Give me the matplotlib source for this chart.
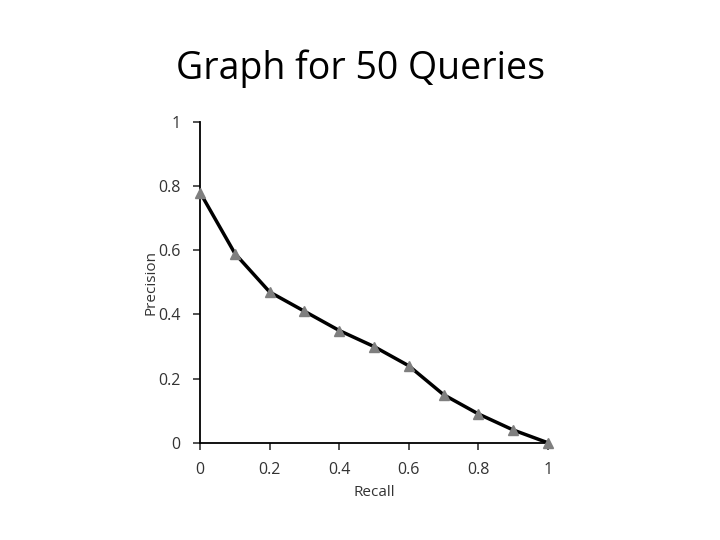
import matplotlib.pyplot as plt

# datos de la curva precision-recall
recall = [0.0, 0.1, 0.2, 0.3, 0.4, 0.5, 0.6, 0.7, 0.8, 0.9, 1.0]
precision = [0.78, 0.59, 0.47, 0.41, 0.35, 0.30, 0.24, 0.15, 0.09, 0.04, 0.0]
xticks = [0, 0.2, 0.4, 0.6, 0.8, 1]
yticks = [0, 0.2, 0.4, 0.6, 0.8, 1]

plt.rcParams['font.family'] = ['Open Sans', 'DejaVu Sans']

fig = plt.figure(figsize=(7.2, 5.4), dpi=100)
ax = fig.add_axes([0.278, 0.18, 0.483, 0.594])

ax.plot(recall, precision, color='black', linewidth=2.5, zorder=2)
ax.plot(recall, precision, linestyle='none', marker='^', markersize=7,
        color='#7f7f7f', zorder=3, clip_on=False)

ax.set_xlim(0, 1)
ax.set_ylim(0, 1)
ax.set_xticks(xticks)
ax.set_yticks(yticks)
ax.set_xticklabels(['0', '0.2', '0.4', '0.6', '0.8', '1'])
ax.set_yticklabels(['0', '0.2', '0.4', '0.6', '0.8', '1'])
ax.spines['top'].set_visible(False)
ax.spines['right'].set_visible(False)
ax.spines['left'].set_linewidth(1.3)
ax.spines['bottom'].set_linewidth(1.3)
ax.tick_params(direction='out', length=5, width=1.2, labelsize=11.5, colors='#333333', labelcolor='#333333', pad=9)
ax.set_xlabel('Recall', fontsize=11, color='#333333', labelpad=5)
ax.set_ylabel('Precision', fontsize=11, color='#333333', labelpad=0)

fig.text(0.5, 0.873, 'Graph for 50 Queries', ha='center', va='center', fontsize=27)

fig.savefig('out.png', dpi=100)
